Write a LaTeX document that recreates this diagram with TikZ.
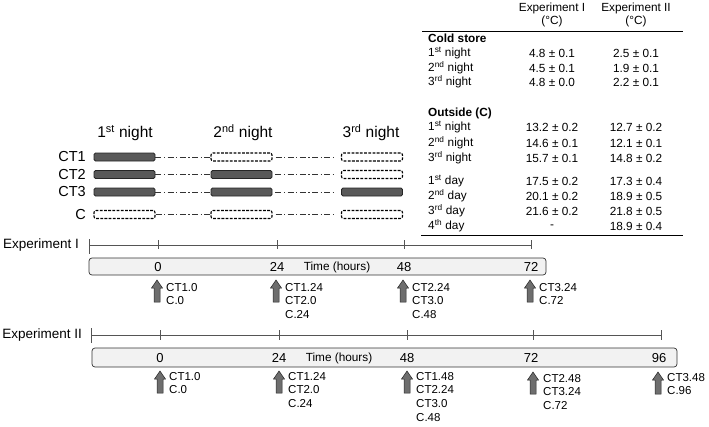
\documentclass[tikz,border=0pt]{standalone}
\usepackage{fontspec}
\setmainfont{Liberation Sans}
\definecolor{barfill}{HTML}{595959}
\definecolor{arrfill}{HTML}{6E6E6E}
\definecolor{boxfill}{HTML}{F2F2F2}
\definecolor{axiscol}{HTML}{555555}
\newcommand\fsz[1]{\fontsize{#1}{#1}\selectfont}
\tikzset{
  fullbar/.style={draw=black!85, fill=barfill, rounded corners=1.5pt, minimum width=61pt, minimum height=8pt, inner sep=0pt, line width=0.8pt},
  emptybar/.style={draw=black, fill=white, dash pattern=on 2.8pt off 1.4pt, rounded corners=2pt, minimum width=61pt, minimum height=8pt, inner sep=0pt, line width=1.1pt},
  link/.style={draw=black!80, dash pattern=on 6pt off 2.5pt on 1.2pt off 2.5pt, line width=0.7pt},
  rowlab/.style={anchor=east, inner sep=0pt, font=\fsz{14.5}},
  nightlab/.style={inner sep=0pt, font=\fsz{15.5}},
  tab/.style={inner sep=0pt, font=\fsz{11.8}},
  tabl/.style={tab, anchor=west},
  exlab/.style={anchor=east, inner sep=0pt, font=\fsz{13.5}},
  axisline/.style={draw=axiscol, line width=0.7pt},
  timebox/.style={draw=black!80, fill=boxfill, rounded corners=3pt, line width=0.7pt},
  num/.style={inner sep=0pt, font=\fsz{13}},
  samp/.style={anchor=north west, inner sep=0pt, align=left, font=\fontsize{11.5}{13.6}\selectfont},
  uparr/.pic={\draw[fill=arrfill, draw=black!85, line width=0.5pt] (-3,22)--(-3,8)--(-5.5,8)--(0,0)--(5.5,8)--(3,8)--(3,22)--cycle;}
}
\begin{document}
\begin{tikzpicture}[x=1pt, y=-1pt]
\useasboundingbox (0,0) rectangle (709,426);

% ---------- night headers ----------
\node[nightlab] (n1) at (125,133) {1\textsuperscript{st} night};
\node[nightlab] (n2) at (243,133) {2\textsuperscript{nd} night};
\node[nightlab] (n3) at (371,133) {3\textsuperscript{rd} night};

% ---------- row labels ----------
\node[rowlab] (lct1) at (86,157) {CT1};
\node[rowlab] (lct2) at (86,174.5) {CT2};
\node[rowlab] (lct3) at (86,192) {CT3};
\node[rowlab] (lc)   at (86,214.5) {C};

% ---------- bars ----------
\node[fullbar]  (a1) at (124.5,157) {};
\node[emptybar] (a2) at (241.5,157) {};
\node[emptybar] (a3) at (372,157) {};

\node[fullbar]  (b1) at (124.5,174.5) {};
\node[fullbar]  (b2) at (241.5,174.5) {};
\node[emptybar] (b3) at (372,174.5) {};

\node[fullbar]  (c1) at (124.5,192) {};
\node[fullbar]  (c2) at (241.5,192) {};
\node[fullbar]  (c3) at (372,192) {};

\node[emptybar] (d1) at (124.5,214.5) {};
\node[emptybar] (d2) at (241.5,214.5) {};
\node[emptybar] (d3) at (372,214.5) {};

\foreach \r in {a,b,c,d}{
  \draw[link] (\r1.east) -- (\r2.west);
  \draw[link, shorten <=3pt, shorten >=5pt] (\r2.east) -- (\r3.west);
}

% ---------- table ----------
\node[tab, align=center] (h1) at (552,15) {Experiment I\\[1pt](°C)};
\node[tab, align=center] (h2) at (636,15) {Experiment II\\[1pt](°C)};
\draw[line width=0.9pt] (422,31) -- (683,31);
\node[tabl] (cs) at (428,38) {\bfseries Cold store};
\node[tabl] (r1) at (428,53) {1\textsuperscript{st} night};
\node[tabl] (r2) at (428,68) {2\textsuperscript{nd} night};
\node[tabl] (r3) at (428,82) {3\textsuperscript{rd} night};
\node[tab] at (552,53) {4.8 ± 0.1};
\node[tab] at (552,68) {4.5 ± 0.1};
\node[tab] at (552,82) {4.8 ± 0.0};
\node[tab] at (636,53) {2.5 ± 0.1};
\node[tab] at (636,68) {1.9 ± 0.1};
\node[tab] at (636,82) {2.2 ± 0.1};
\node[tabl] (os) at (428,113) {\bfseries Outside (C)};
\node[tabl] (o1) at (428,127) {1\textsuperscript{st} night};
\node[tabl] (o2) at (428,143) {2\textsuperscript{nd} night};
\node[tabl] (o3) at (428,158) {3\textsuperscript{rd} night};
\node[tabl] (o4) at (428,181) {1\textsuperscript{st} day};
\node[tabl] (o5) at (428,196) {2\textsuperscript{nd} day};
\node[tabl] (o6) at (428,211) {3\textsuperscript{rd} day};
\node[tabl] (o7) at (428,226) {4\textsuperscript{th} day};
\node[tab] at (552,127) {13.2 ± 0.2};
\node[tab] at (552,143) {14.6 ± 0.1};
\node[tab] at (552,158) {15.7 ± 0.1};
\node[tab] at (552,181) {17.5 ± 0.2};
\node[tab] at (552,196) {20.1 ± 0.2};
\node[tab] at (552,211) {21.6 ± 0.2};
\node[tab] at (552,227) {-};
\node[tab] at (636,127) {12.7 ± 0.2};
\node[tab] at (636,143) {12.1 ± 0.1};
\node[tab] at (636,158) {14.8 ± 0.2};
\node[tab] at (636,181) {17.3 ± 0.4};
\node[tab] at (636,196) {18.9 ± 0.5};
\node[tab] at (636,211) {21.8 ± 0.5};
\node[tab] at (636,226) {18.9 ± 0.4};
\draw[line width=0.9pt] (421,235) -- (683,235);

% ---------- Experiment I ----------
\node[exlab] (e1) at (79,245) {Experiment I};
\draw[axisline] (89,245) -- (531,245);
\draw[axisline] (89,239) -- (89,254);
\foreach \x in {158,277,404,531} \draw[axisline] (\x,240) -- (\x,249);
\draw[timebox] (89,258) rectangle (546,275);
\node[num] (t10) at (158,267) {0};
\node[num] (t124) at (277,267) {24};
\node[num] (t148) at (404,267) {48};
\node[num] (t172) at (531,267) {72};
\node[tab] (th1) at (337,267) {Time (hours)};
\pic at (157,280) {uparr};
\pic at (276,280) {uparr};
\pic at (403,280) {uparr};
\pic at (530,280) {uparr};
\node[samp] (s10) at (166,283) {CT1.0\\C.0};
\node[samp] (s124) at (285,283) {CT1.24\\CT2.0\\C.24};
\node[samp] (s148) at (412,283) {CT2.24\\CT3.0\\C.48};
\node[samp] (s172) at (539,283) {CT3.24\\C.72};

% ---------- Experiment II ----------
\node[exlab] (e2) at (82,335) {Experiment II};
\draw[axisline] (91,335) -- (661,335);
\draw[axisline] (91,328) -- (91,343);
\foreach \x in {160,279,407,533,661} \draw[axisline] (\x,330) -- (\x,340);
\draw[timebox] (92,348) rectangle (677,367);
\node[num] (t20) at (160,358) {0};
\node[num] (t224) at (279,358) {24};
\node[num] (t248) at (407,358) {48};
\node[num] (t272) at (531,358) {72};
\node[num] (t296) at (659,358) {96};
\node[tab] (th2) at (339,358) {Time (hours)};
\pic at (160,371) {uparr};
\pic at (279,371) {uparr};
\pic at (407,371) {uparr};
\pic at (533,372) {uparr};
\pic at (658,372) {uparr};
\node[samp] (s20) at (169,372) {CT1.0\\C.0};
\node[samp] (s224) at (288,372) {CT1.24\\CT2.0\\C.24};
\node[samp] (s248) at (416,372) {CT1.48\\CT2.24\\CT3.0\\C.48};
\node[samp] (s272) at (543,374) {CT2.48\\CT3.24\\C.72};
\node[samp] (s296) at (667,373) {CT3.48\\C.96};
\end{tikzpicture}
\end{document}
